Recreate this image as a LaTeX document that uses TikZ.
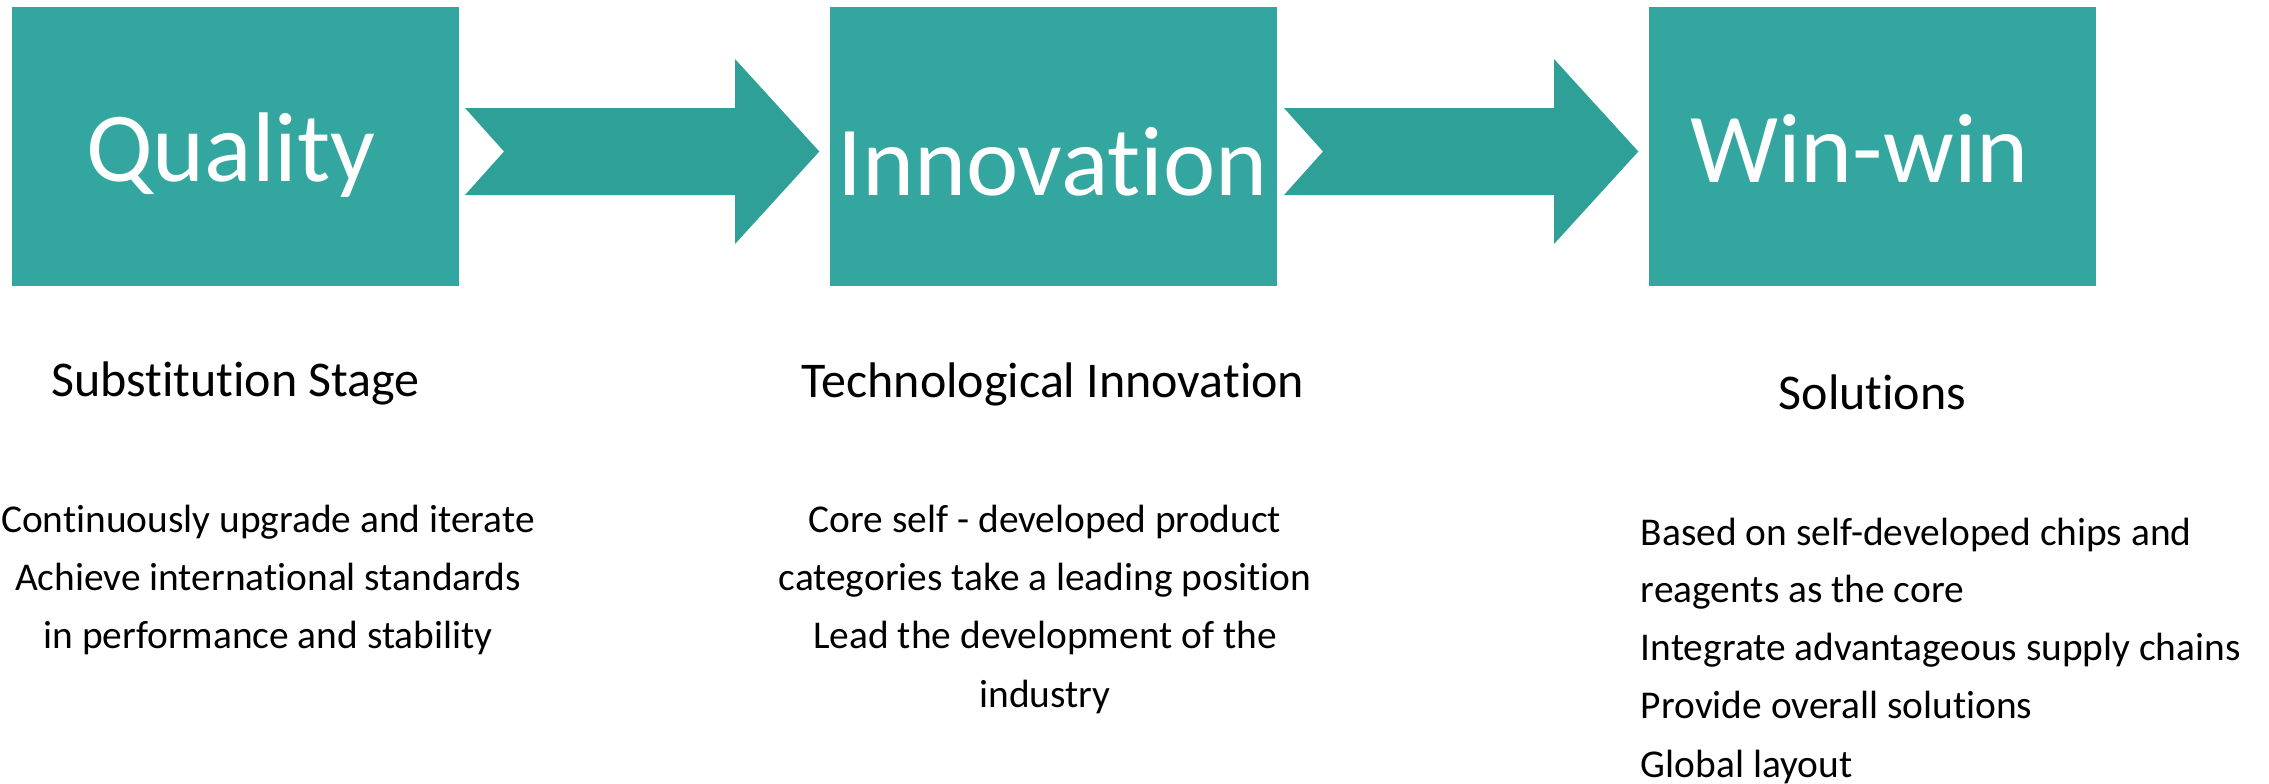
\documentclass[tikz,border=0pt]{standalone}
\usepackage{fontspec}
\setmainfont{Carlito}[Ligatures={NoCommon,NoRare,NoContextual}]
\definecolor{boxteal}{RGB}{51,166,160}
\definecolor{arrowteal}{RGB}{46,160,152}
\begin{document}
\begin{tikzpicture}[x=0.5pt,y=-0.5pt,
  stagebox/.style={fill=boxteal, draw=none, minimum width=223.5pt, minimum height=139.5pt, inner sep=0pt, anchor=north west},
  titletext/.style={text=white, font=\fontsize{49.5}{59}\selectfont, inner sep=0pt, anchor=base},
  subtext/.style={font=\fontsize{25}{30}\selectfont, inner sep=0pt, anchor=base},
  bodytext/.style={font=\fontsize{19.7}{29}\selectfont, inner sep=0pt, anchor=base},
  bodyleft/.style={bodytext, anchor=base west},
  blockarrow/.style={fill=arrowteal, draw=none}]
\useasboundingbox (0,0) rectangle (2269,783);
% boxes
\node[stagebox] (b1) at (12,7) {};
\node[stagebox] (b2) at (830,7) {};
\node[stagebox] (b3) at (1649,7) {};
% titles
\node[titletext] (t1) at (231,181) {Quality};
\node[titletext] (t2) at (1052.5,195) {Innovation};
\node[titletext] (t3) at (1859.5,182) {Win-win};
% arrows
\fill[blockarrow] (465,108) -- (735,108) -- (735,59) -- (819.3,151.5) -- (735,244) -- (735,195) -- (465,195) -- (504,151.5) -- cycle;
\fill[blockarrow] (1284,108) -- (1554,108) -- (1554,59) -- (1638.3,151.5) -- (1554,244) -- (1554,195) -- (1284,195) -- (1323,151.5) -- cycle;
% subtitles
\node[subtext] (s1) at (235.5,396) {Substitution Stage};
\node[subtext] (s2) at (1053,397) {Technological Innovation};
\node[subtext] (s3) at (1872.5,409) {Solutions};
% body column 1
\node[bodytext] (c1a) at (268,532) {Continuously upgrade and iterate};
\node[bodytext] (c1b) at (268,590) {Achieve international standards};
\node[bodytext] (c1c) at (268,648) {in performance and stability};
% body column 2
\node[bodytext] (c2a) at (1045,532) {Core self - developed product};
\node[bodytext] (c2b) at (1045,590) {categories take a leading position};
\node[bodytext] (c2c) at (1045,648) {Lead the development of the};
\node[bodytext] (c2d) at (1045,707) {industry};
% body column 3
\node[bodyleft] (c3a) at (1640.5,545) {Based on self-developed chips and};
\node[bodyleft] (c3b) at (1640.5,602) {reagents as the core};
\node[bodyleft] (c3c) at (1640.5,660) {Integrate advantageous supply chains};
\node[bodyleft] (c3d) at (1640.5,718) {Provide overall solutions};
\node[bodyleft] (c3e) at (1640.5,777) {Global layout};
\end{tikzpicture}
\end{document}
